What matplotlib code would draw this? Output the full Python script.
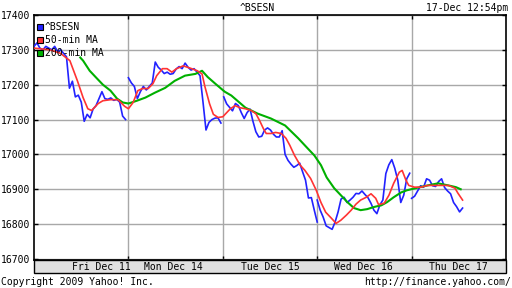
import numpy as np
import matplotlib
matplotlib.use("Agg")
import matplotlib.pyplot as plt
from matplotlib.patches import Rectangle

plt.rcParams['font.family'] = ['DejaVu Sans Mono']

# ^BSESN intraday prices, one list per trading day (evenly spaced samples)
fri = [17310, 17320, 17305, 17300, 17310, 17305, 17300, 17310, 17295, 17300, 17290,
       17280, 17190, 17210, 17165, 17170, 17150, 17095, 17115, 17105, 17130, 17140,
       17160, 17180, 17160, 17158, 17162, 17155, 17158, 17150, 17110, 17100]
mon = [17220, 17205, 17195, 17160, 17180, 17195, 17185, 17195, 17205, 17265, 17250,
       17242, 17232, 17236, 17230, 17232, 17245, 17252, 17246, 17262, 17250, 17242,
       17246, 17236, 17226, 17150, 17070, 17092, 17100, 17104, 17105, 17090]
tue = [17165, 17145, 17135, 17125, 17146, 17140, 17120, 17103, 17120, 17130, 17095,
       17065, 17050, 17052, 17070, 17076, 17070, 17058, 17050, 17050, 17068, 17000,
       16983, 16972, 16963, 16968, 16975, 16950, 16926, 16875, 16876, 16840, 16806]
wed = [16869, 16840, 16820, 16795, 16790, 16785, 16806, 16835, 16872, 16877, 16862,
       16869, 16877, 16888, 16887, 16895, 16885, 16876, 16860, 16840, 16830, 16855,
       16869, 16945, 16970, 16985, 16960, 16926, 16862, 16883, 16930, 16946]
thu = [16874, 16880, 16895, 16910, 16906, 16930, 16926, 16910, 16908, 16922, 16930,
       16905, 16895, 16887, 16862, 16850, 16835, 16846]
days = [fri, mon, tue, wed, thu]
day_span = [(0.0, 0.97), (0.0, 0.98), (0.01, 1.0), (0.0, 0.98), (0.0, 0.54)]

# 50-min moving average (time in trading days, value)
ma50_t = [0.00, 0.17, 0.28, 0.38, 0.46, 0.52, 0.57, 0.61, 0.68, 0.73, 0.81, 0.89, 0.96,
          1.00, 1.05, 1.10, 1.15, 1.21, 1.26, 1.30, 1.36, 1.41, 1.46, 1.51, 1.58, 1.65,
          1.73, 1.78, 1.81, 1.86, 1.90, 1.95, 2.00, 2.08, 2.13, 2.18, 2.24, 2.30, 2.35,
          2.39, 2.43, 2.46, 2.51, 2.56, 2.62, 2.67, 2.71, 2.76, 2.82, 2.87, 2.93, 2.99,
          3.04, 3.09, 3.15, 3.20, 3.25, 3.31, 3.36, 3.41, 3.46, 3.52, 3.57, 3.62, 3.65,
          3.71, 3.76, 3.81, 3.87, 3.90, 3.94, 3.97, 4.03, 4.10, 4.17, 4.31, 4.39, 4.46,
          4.49, 4.54]
ma50_v = [17305, 17300, 17290, 17269, 17211, 17163, 17131, 17126, 17146, 17154, 17157,
          17157, 17138, 17131, 17149, 17183, 17189, 17189, 17203, 17226, 17246, 17246,
          17236, 17246, 17254, 17248, 17240, 17231, 17195, 17145, 17115, 17106, 17108,
          17131, 17140, 17134, 17131, 17126, 17117, 17097, 17074, 17060, 17060, 17063,
          17060, 17046, 17026, 16997, 16969, 16954, 16931, 16897, 16862, 16834, 16817,
          16802, 16811, 16826, 16840, 16857, 16869, 16877, 16887, 16874, 16856, 16860,
          16883, 16917, 16949, 16954, 16926, 16911, 16906, 16906, 16911, 16911, 16911,
          16903, 16889, 16869]

# 200-min moving average
ma200_t = [0.49, 0.52, 0.59, 0.67, 0.73, 0.81, 0.88, 0.94, 1.00, 1.09, 1.18, 1.28, 1.39,
           1.49, 1.60, 1.71, 1.78, 1.84, 1.92, 2.02, 2.09, 2.24, 2.37, 2.51, 2.66, 2.80,
           2.90, 2.97, 3.04, 3.10, 3.18, 3.25, 3.32, 3.39, 3.46, 3.53, 3.60, 3.68, 3.74,
           3.81, 3.89, 3.95, 4.04, 4.17, 4.28, 4.39, 4.47, 4.52]
ma200_v = [17278, 17269, 17240, 17217, 17200, 17183, 17160, 17149, 17146, 17154, 17163,
           17177, 17191, 17211, 17226, 17231, 17240, 17222, 17203, 17180, 17169, 17134,
           17117, 17103, 17083, 17046, 17017, 16997, 16969, 16934, 16903, 16883, 16863,
           16846, 16840, 16843, 16849, 16854, 16863, 16877, 16891, 16897, 16903, 16911,
           16917, 16911, 16906, 16900]

day_labels = ['Fri Dec 11', 'Mon Dec 14', 'Tue Dec 15', 'Wed Dec 16', 'Thu Dec 17']
label_pos = [0.71, 1.48, 2.50, 3.49, 4.50]
yticks = [16700, 16800, 16900, 17000, 17100, 17200, 17300, 17400]

blue = '#2222ff'
red = '#ff3333'
green = '#00b000'

fig = plt.figure(figsize=(5.12, 2.88), dpi=100)
W, H = 512, 288
ax = fig.add_axes([34 / W, 28 / H, 472 / W, 245 / H])

# price line, broken at each day boundary
for k, vals in enumerate(days):
    a, b = day_span[k]
    x = k + np.linspace(a, b, len(vals))
    ax.plot(x, vals, color=blue, lw=1.2, zorder=3)
ax.plot(ma200_t, ma200_v, color=green, lw=1.5, zorder=4)
ax.plot(ma50_t, ma50_v, color=red, lw=1.2, zorder=5)

ax.set_xlim(0, 5)
ax.set_ylim(16697, 17400)
ax.set_xticks([1, 2, 3, 4])
ax.set_xticklabels([])
ax.set_yticks(yticks)
ax.set_yticklabels([str(v) for v in yticks], fontsize=7)
ax.grid(True, color='#a8a8a8', lw=1)
ax.tick_params(direction='in', length=3, width=1, top=True, right=True, pad=3)
for s in ax.spines.values():
    s.set_linewidth(1.2)

# legend drawn by hand, text straight over the lines
leg = [('^BSESN', blue), ('50-min MA', red), ('200-min MA', green)]
for i, (name, c) in enumerate(leg):
    yy = 1 - (12 + i * 13) / 245
    ax.plot([6 / 472], [yy], marker='s', ms=5, mfc=c, mec='black', mew=0.8,
            transform=ax.transAxes, zorder=6, clip_on=False)
    ax.text(11 / 472, yy, name, transform=ax.transAxes, fontsize=7,
            va='center', ha='left', zorder=6)

# date band under plot
band = Rectangle((34 / W, 15 / H), 472 / W, 13 / H, transform=fig.transFigure,
                 facecolor='#e0e0e0', edgecolor='black', lw=1)
fig.patches.append(band)
for lab, p in zip(day_labels, label_pos):
    fig.text((34 + p * 472 / 5) / W, 21.5 / H, lab, ha='center', va='center', fontsize=7)

fig.text(257 / W, 1 - 8 / H, '^BSESN', ha='center', va='center', fontsize=7)
fig.text(508 / W, 1 - 8 / H, '17-Dec 12:54pm', ha='right', va='center', fontsize=7)
fig.text(1 / W, 6 / H, 'Copyright 2009 Yahoo! Inc.', ha='left', va='center', fontsize=7)
fig.text(511 / W, 6 / H, 'http://finance.yahoo.com/', ha='right', va='center', fontsize=7)

fig.savefig('out.png', dpi=100)
